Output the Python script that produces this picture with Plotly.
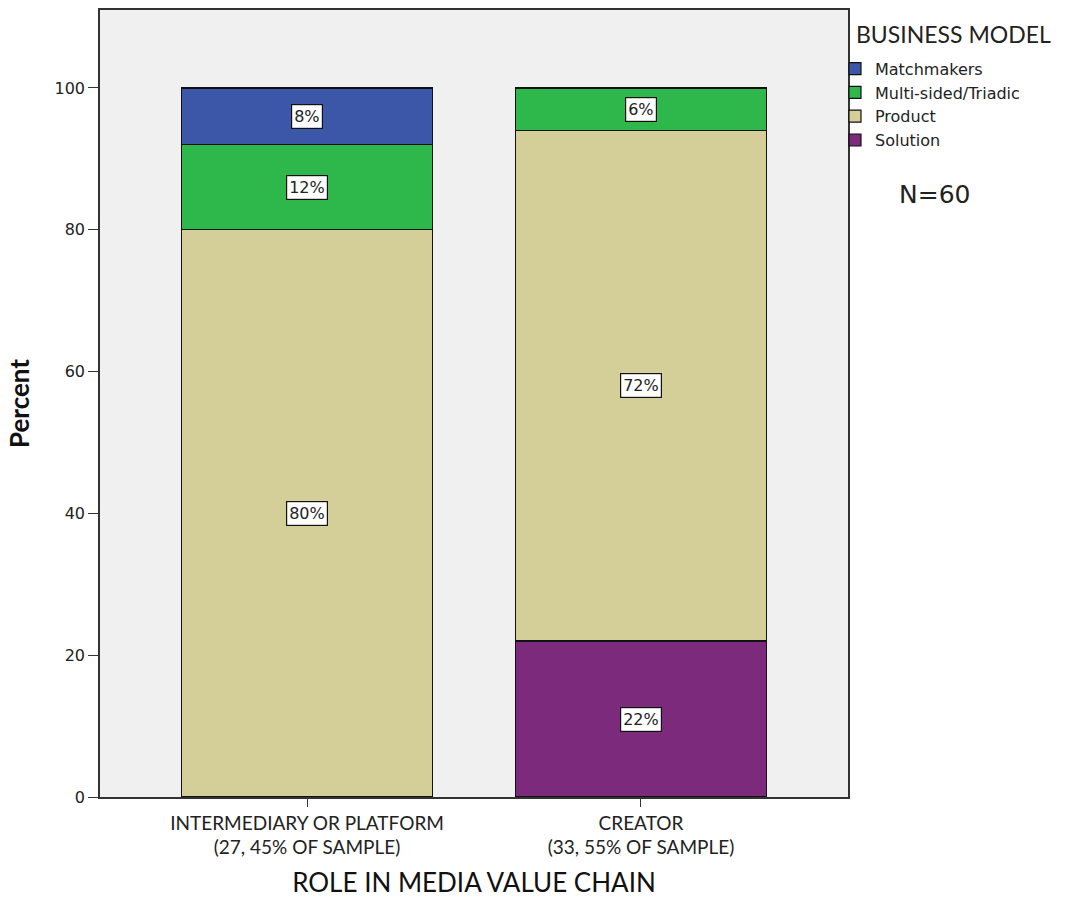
import plotly.graph_objects as go

# Stacked percentages by role in the media value chain
categories = ["INTERMEDIARY OR PLATFORM<br>(27, 45% OF SAMPLE)",
              "CREATOR<br>(33, 55% OF SAMPLE)"]
solution = [None, 22]
product = [80, 72]
multi_sided = [12, 6]
matchmakers = [8, None]
y_ticks = [0, 20, 40, 60, 80, 100]

series = [
    ("Solution", solution, "#7B2A7C"),
    ("Product", product, "#D4CF99"),
    ("Multi-sided/Triadic", multi_sided, "#2EB84B"),
    ("Matchmakers", matchmakers, "#3C56A8"),
]

fig = go.Figure()
for name, vals, color in series:
    fig.add_trace(go.Bar(
        x=categories, y=vals, name=name, width=0.75,
        marker=dict(color=color, line=dict(color="#111111", width=1.2)),
    ))

# Boxed percentage labels at the middle of each segment
base = [0] * len(categories)
for name, vals, color in series:
    for i, v in enumerate(vals):
        if v:
            fig.add_annotation(
                x=categories[i], y=base[i] + v / 2, text=f"{v}%",
                showarrow=False, bgcolor="white", bordercolor="#111111",
                borderwidth=1.2, borderpad=2,
                font=dict(family="DejaVu Sans", size=16, color="#222222"),
            )
            base[i] += v

# Legend heading and sample size note
fig.add_annotation(
    xref="paper", yref="paper", x=1.008, y=0.9695, xanchor="left",
    yanchor="middle", text="BUSINESS MODEL", showarrow=False,
    font=dict(family="Lato", size=23, color="#222222"),
)
fig.add_annotation(
    xref="paper", yref="paper", x=1.066, y=0.765, xanchor="left",
    yanchor="middle", text="N=60", showarrow=False,
    font=dict(family="DejaVu Sans", size=25, color="#222222"),
)

fig.update_layout(
    width=1065, height=898,
    margin=dict(l=100, r=217, t=10, b=101),
    barmode="stack",
    paper_bgcolor="white",
    plot_bgcolor="#F0F0F0",
    showlegend=True,
    legend=dict(
        x=0.9826, y=0.947, xanchor="left", yanchor="top",
        traceorder="reversed", bgcolor="rgba(0,0,0,0)",
        font=dict(family="DejaVu Sans", size=16, color="#222222"),
        itemwidth=30, tracegroupgap=0,
    ),
    xaxis=dict(
        range=[-0.62, 1.62], automargin=False,
        showline=True, linecolor="#333333", linewidth=1.5, mirror=True,
        ticks="outside", ticklen=8, tickcolor="#333333",
        tickfont=dict(family="Lato", size=19, color="#222222"),
        title=dict(text="ROLE IN MEDIA VALUE CHAIN", standoff=22,
                   font=dict(family="Lato", size=26, color="#111111")),
    ),
    yaxis=dict(
        range=[0, 111], tickvals=y_ticks, showgrid=False, zeroline=False,
        automargin=False,
        showline=True, linecolor="#333333", linewidth=1.5, mirror=True,
        ticks="outside", ticklen=10, tickcolor="#333333",
        tickfont=dict(family="DejaVu Sans", size=16, color="#222222"),
        title=dict(text="<b>Percent</b>", standoff=17,
                   font=dict(family="Lato", size=26, color="#111111")),
    ),
)

fig.write_html("out.html")
